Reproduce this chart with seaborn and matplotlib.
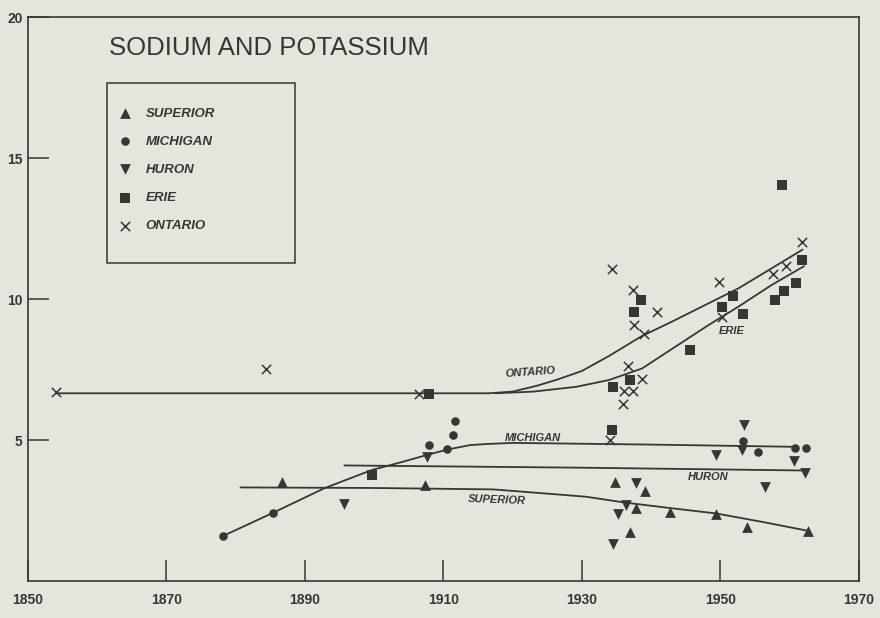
import numpy as np
import pandas as pd
import matplotlib.pyplot as plt
import seaborn as sns
from matplotlib.patches import Rectangle

# values (year, concentration)
superior_year = [1886.7, 1907.4, 1934.8, 1939.1, 1937.8, 1937.0, 1942.8, 1949.4, 1953.9, 1962.7]
superior_val = [3.52, 3.40, 3.52, 3.19, 2.58, 1.75, 2.46, 2.37, 1.93, 1.78]

michigan_year = [1878.2, 1885.4, 1907.9, 1910.6, 1911.4, 1911.7, 1953.3, 1955.4, 1960.8, 1962.4]
michigan_val = [1.60, 2.42, 4.82, 4.67, 5.18, 5.68, 4.98, 4.56, 4.73, 4.73]

huron_year = [1895.7, 1907.6, 1934.5, 1935.2, 1936.4, 1937.8, 1949.4, 1953.2, 1953.5, 1956.4, 1960.6, 1962.2]
huron_val = [2.73, 4.39, 1.31, 2.37, 2.70, 3.49, 4.47, 4.65, 5.53, 3.32, 4.26, 3.82]

erie_year = [1899.7, 1908.0, 1934.3, 1934.5, 1937.0, 1937.6, 1938.6, 1945.7, 1950.3, 1951.9,
             1953.3, 1957.9, 1958.9, 1959.2, 1961.0, 1961.8]
erie_val = [3.75, 6.63, 5.35, 6.89, 7.13, 9.55, 9.96, 8.19, 9.72, 10.11,
            9.49, 9.96, 14.04, 10.29, 10.56, 11.38]

ontario_year = [1854.0, 1884.4, 1906.5, 1934.1, 1934.3, 1935.9, 1936.1, 1936.7, 1937.4, 1937.4,
                1937.5, 1938.7, 1939.0, 1940.9, 1949.8, 1950.2, 1957.6, 1959.5, 1961.8]
ontario_val = [6.69, 7.52, 6.63, 5.00, 11.06, 6.28, 6.73, 7.63, 6.73, 10.32,
               9.10, 7.17, 8.78, 9.54, 10.61, 9.37, 10.91, 11.17, 12.03]

# hand drawn trend curves
superior_curve_year = [1880.7, 1900.0, 1917.2, 1925.0, 1930.6, 1936.3, 1943.0, 1949.3, 1956.0, 1962.7]
superior_curve_val = [3.32, 3.30, 3.25, 3.10, 2.99, 2.78, 2.58, 2.40, 2.10, 1.78]

michigan_curve_year = [1878.2, 1885.4, 1892.8, 1899.7, 1904.0, 1907.6, 1910.7, 1913.8, 1916.2, 1920.0, 1940.0, 1961.0]
michigan_curve_val = [1.60, 2.42, 3.29, 3.94, 4.22, 4.47, 4.67, 4.82, 4.86, 4.90, 4.84, 4.76]

huron_curve_year = [1895.7, 1930.0, 1962.2]
huron_curve_val = [4.10, 4.02, 3.92]

erie_curve_year = [1917.5, 1923.0, 1929.2, 1933.9, 1938.7, 1943.5, 1948.3, 1952.6, 1957.4, 1962.1]
erie_curve_val = [6.66, 6.72, 6.89, 7.13, 7.54, 8.31, 9.08, 9.73, 10.50, 11.17]

ontario_curve_year = [1854.0, 1916.5, 1920.0, 1923.4, 1926.5, 1930.0, 1933.9, 1938.6, 1943.0, 1947.8,
                      1952.6, 1957.4, 1961.9]
ontario_curve_val = [6.66, 6.66, 6.72, 6.92, 7.15, 7.45, 7.98, 8.68, 9.20, 9.79,
                     10.38, 11.09, 11.76]

lakes = ['SUPERIOR', 'MICHIGAN', 'HURON', 'ERIE', 'ONTARIO']
x_ticks = [1850, 1870, 1890, 1910, 1930, 1950, 1970]
y_ticks = [5, 10, 15, 20]

points = {'SUPERIOR': (superior_year, superior_val), 'MICHIGAN': (michigan_year, michigan_val),
          'HURON': (huron_year, huron_val), 'ERIE': (erie_year, erie_val),
          'ONTARIO': (ontario_year, ontario_val)}
curves = pd.concat([
    pd.DataFrame({'year': y, 'value': v, 'lake': n}) for n, (y, v) in {
        'SUPERIOR': (superior_curve_year, superior_curve_val),
        'MICHIGAN': (michigan_curve_year, michigan_curve_val),
        'HURON': (huron_curve_year, huron_curve_val),
        'ERIE': (erie_curve_year, erie_curve_val),
        'ONTARIO': (ontario_curve_year, ontario_curve_val)}.items()], ignore_index=True)

markers = {'SUPERIOR': '^', 'MICHIGAN': 'o', 'HURON': 'v', 'ERIE': 's', 'ONTARIO': 'x'}
sizes = {'SUPERIOR': 60, 'MICHIGAN': 38, 'HURON': 60, 'ERIE': 52, 'ONTARIO': 45}
paper = '#e4e6de'
ink = '#363634'

sns.set_style('white')
plt.rcParams['font.family'] = ['Liberation Sans', 'DejaVu Sans']

fig = plt.figure(figsize=(8.8, 6.18), dpi=100, facecolor=paper)
ax = fig.add_axes([0.0318, 0.0599, 0.944, 0.912])
ax.set_facecolor(paper)

sns.lineplot(data=curves, x='year', y='value', units='lake', estimator=None, sort=False,
             color=ink, lw=1.3, ax=ax, legend=False)

for lake in lakes:
    yr, val = points[lake]
    if markers[lake] == 'x':
        sns.scatterplot(x=yr, y=val, marker='x', s=sizes[lake], color=ink, linewidth=1.1,
                        label=lake, ax=ax, zorder=3)
    else:
        sns.scatterplot(x=yr, y=val, marker=markers[lake], s=sizes[lake], color=ink,
                        edgecolor=ink, linewidth=0, label=lake, ax=ax, zorder=3)

# curve labels
lbl = dict(fontsize=8, fontstyle='italic', fontweight='bold', color=ink)
ax.text(1922.5, 7.4, 'ONTARIO', ha='center', va='center', rotation=4, **lbl)
ax.text(1951.7, 8.87, 'ERIE', ha='center', va='center', **lbl)
ax.text(1922.9, 5.07, 'MICHIGAN', ha='center', va='center', **lbl)
ax.text(1948.3, 3.69, 'HURON', ha='center', va='center', **lbl)
ax.text(1917.7, 2.87, 'SUPERIOR', ha='center', va='center', rotation=-2, **lbl)

ax.text(0.098, 0.946, 'SODIUM AND POTASSIUM', transform=ax.transAxes, fontsize=18.5,
        color=ink, ha='left', va='center')

# legend without its own frame, boxed by a plain rectangle
leg = ax.legend(bbox_to_anchor=(0.1088, 0.840), loc='upper left', borderaxespad=0,
                frameon=False, borderpad=0, labelspacing=1.2, handlelength=1.0,
                handletextpad=1.05, prop={'size': 9.5, 'style': 'italic', 'weight': 'bold'})
for t in leg.get_texts():
    t.set_color(ink)
ax.add_patch(Rectangle((0.0951, 0.5643), 0.226, 0.3195, transform=ax.transAxes,
                       fill=False, edgecolor=ink, linewidth=1.1, zorder=4))

ax.set_xlim(1850, 1970)
ax.set_ylim(0, 20)
ax.set_xticks(x_ticks)
ax.set_yticks(y_ticks)
ax.set_xlabel('')
ax.set_ylabel('')
ax.tick_params(direction='in', length=15, width=1.1, colors=ink, labelsize=10,
               bottom=True, left=True)
ax.tick_params(axis='x', pad=9)
ax.tick_params(axis='y', pad=4)
for lab in ax.get_xticklabels() + ax.get_yticklabels():
    lab.set_fontweight('bold')
for sp in ax.spines.values():
    sp.set_visible(True)
    sp.set_color(ink)
    sp.set_linewidth(1.2)

fig.savefig('out.png', dpi=100, facecolor=paper)
